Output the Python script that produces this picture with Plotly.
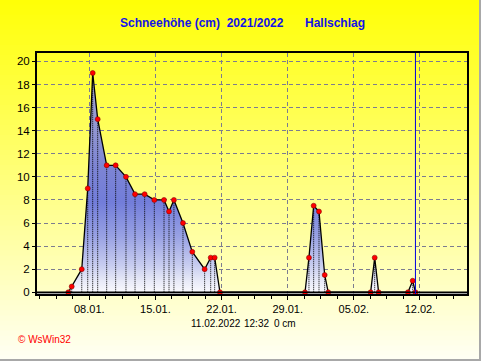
import plotly.graph_objects as go

# ---------------- data ----------------
snow_dates = [
    "2022-01-05 18:40", "2022-01-06 03:20", "2022-01-07 04:50", "2022-01-07 20:00",
    "2022-01-08 08:40", "2022-01-08 21:20", "2022-01-09 20:10", "2022-01-10 19:00",
    "2022-01-11 21:10", "2022-01-12 20:10", "2022-01-13 20:40", "2022-01-14 21:10",
    "2022-01-15 21:50", "2022-01-16 10:30", "2022-01-16 23:00", "2022-01-17 22:00",
    "2022-01-18 21:40", "2022-01-20 05:00", "2022-01-20 20:24", "2022-01-21 06:30",
    "2022-01-21 20:00",
    "2022-01-30 20:00", "2022-01-31 06:00", "2022-01-31 18:00", "2022-02-01 07:30",
    "2022-02-01 22:00", "2022-02-02 07:00",
    "2022-02-06 18:40", "2022-02-07 05:00", "2022-02-07 15:00",
    "2022-02-10 17:30", "2022-02-11 05:30", "2022-02-11 12:32",
]
snow_cm = [
    0, 0.5, 2, 9, 19, 15, 11, 11, 10, 8.5, 8.5, 8, 8, 7, 8, 6, 3.5, 2, 3, 3, 0,
    0, 3, 7.5, 7, 1.5, 0,
    0, 3, 0,
    0, 1, 0,
]
y_ticks = [0, 2, 4, 6, 8, 10, 12, 14, 16, 18, 20]
now_time = "2022-02-11 12:32"
stamp_date = "11.02.2022"
stamp_time = "12:32"
stamp_value = "0 cm"
title_main = "Schneehöhe (cm)  2021/2022"
title_place = "Hallschlag"
copyright_text = "© WsWin32"

# ---------------- layout geometry ----------------
W, H = 481, 361
L, R, T, B = 37, 467, 53, 294


def px(x):
    return (x - L) / (R - L)


def py(y):
    return (B - y) / (B - T)


fig = go.Figure()

# dotted verticals from each reading down to zero
vx, vy = [], []
for d, v in zip(snow_dates, snow_cm):
    if v > 0:
        vx += [d, d, None]
        vy += [0, v, None]

fig.add_trace(go.Scatter(
    x=snow_dates, y=snow_cm, mode="lines",
    line=dict(color="rgba(0,0,0,0)", width=0),
    fill="tozeroy",
    fillgradient=dict(
        type="vertical", start=0, stop=19.5,
        colorscale=[
            [0.0, "rgb(250,250,253)"],
            [0.05, "rgb(232,234,248)"],
            [0.12, "rgb(200,205,240)"],
            [0.25, "rgb(152,161,228)"],
            [0.4, "rgb(114,125,218)"],
            [0.55, "rgb(124,132,212)"],
            [0.75, "rgb(148,152,208)"],
            [1.0, "rgb(170,172,212)"],
        ],
    ),
    hoverinfo="skip", showlegend=False,
))
fig.add_trace(go.Scatter(
    x=vx, y=vy, mode="lines",
    line=dict(color="black", width=1, dash="1px,1px"),
    hoverinfo="skip", showlegend=False,
))
fig.add_trace(go.Scatter(
    x=snow_dates, y=snow_cm, mode="lines+markers",
    line=dict(color="black", width=1.3),
    marker=dict(size=5, color="#ff0000", line=dict(color="#700000", width=0.5)),
    showlegend=False,
))

shapes = []
# yellow -> pale background gradient
n = 72
for i in range(n):
    y0 = H * i / n
    y1 = H * (i + 1) / n
    t = (i + 0.5) / n
    b = int(round(5 + 240 * t))
    shapes.append(dict(
        type="rect", xref="paper", yref="paper",
        x0=px(0), x1=px(W), y0=py(y1) - 0.002, y1=py(y0) + 0.002,
        fillcolor=f"rgb(255,255,{b})", line=dict(width=0), layer="below",
    ))
# gray band under the zero line
shapes.append(dict(type="rect", xref="paper", yref="y", x0=0, x1=1, y0=-0.2, y1=0,
                   fillcolor="#a4a4a4", line=dict(width=0), layer="below"))
shapes.append(dict(type="line", xref="paper", yref="y", x0=0, x1=1, y0=0, y1=0,
                   line=dict(color="black", width=1.5)))
# current time marker
shapes.append(dict(type="line", xref="x", yref="paper", x0=now_time, x1=now_time,
                   y0=0, y1=1, line=dict(color="#0000e0", width=1)))
# window border right / bottom
shapes.append(dict(type="line", xref="paper", yref="paper", x0=px(480), x1=px(480),
                   y0=py(0), y1=py(361), line=dict(color="#a8a8a8", width=2)))
shapes.append(dict(type="line", xref="paper", yref="paper", x0=px(0), x1=px(481),
                   y0=py(360), y1=py(360), line=dict(color="#a8a8a8", width=2)))

FONT = "Liberation Sans, Arial"
annotations = [
    dict(text="<b>" + title_main + "</b>", x=px(117.5), y=py(23.5), xanchor="left",
         yanchor="middle", font=dict(family=FONT, size=12, color="#1414e6")),
    dict(text="<b>" + title_place + "</b>", x=px(303), y=py(23.5), xanchor="left",
         yanchor="middle", font=dict(family=FONT, size=12, color="#1414e6")),
    dict(text=stamp_date, x=px(215.5), y=py(323.5), xanchor="center",
         yanchor="middle", font=dict(family=FONT, size=10, color="black")),
    dict(text=stamp_time, x=px(256.5), y=py(323.5), xanchor="center",
         yanchor="middle", font=dict(family=FONT, size=10, color="black")),
    dict(text=stamp_value, x=px(272), y=py(323.5), xanchor="left",
         yanchor="middle", font=dict(family=FONT, size=10, color="black")),
    dict(text=copyright_text, x=px(16), y=py(339.5), xanchor="left",
         yanchor="middle", font=dict(family=FONT, size=10, color="#ff0000")),
]
for a in annotations:
    a.update(showarrow=False, xref="paper", yref="paper")

fig.update_layout(
    width=W, height=H,
    margin=dict(l=L, r=W - R, t=T, b=H - B, pad=0),
    paper_bgcolor="#ffffb0",
    plot_bgcolor="rgba(0,0,0,0)",
    shapes=shapes,
    annotations=annotations,
    showlegend=False,
    font=dict(family=FONT, size=11, color="black"),
)
fig.update_xaxes(
    type="date",
    range=["2022-01-02 11:10", "2022-02-16 23:30"],
    tick0="2022-01-01", dtick=7 * 86400000, tickformat="%d.%m.",
    ticks="outside", ticklen=4, tickcolor="black", tickwidth=1,
    tickfont=dict(family=FONT, size=11, color="black"),
    minor=dict(tick0="2022-01-01", dtick=1.75 * 86400000, ticks="outside",
               ticklen=3, tickcolor="black", showgrid=False),
    showgrid=True, gridcolor="#7c7c90", gridwidth=1, griddash="4px,3px",
    showline=True, linecolor="black", linewidth=2, mirror=True,
    zeroline=False, fixedrange=True,
)
fig.update_yaxes(
    range=[-0.15, 20.73],
    tickvals=y_ticks,
    ticks="outside", ticklen=3, tickcolor="black",
    tickfont=dict(family=FONT, size=11.5, color="black"),
    showgrid=True, gridcolor="#7c7c90", gridwidth=1, griddash="4px,3px",
    showline=True, linecolor="black", linewidth=2, mirror=True,
    zeroline=False, fixedrange=True,
)

fig.write_html(
    "out.html",
    config={"displayModeBar": False},
    post_script="document.body.style.margin='0';document.body.style.overflow='hidden';",
)
